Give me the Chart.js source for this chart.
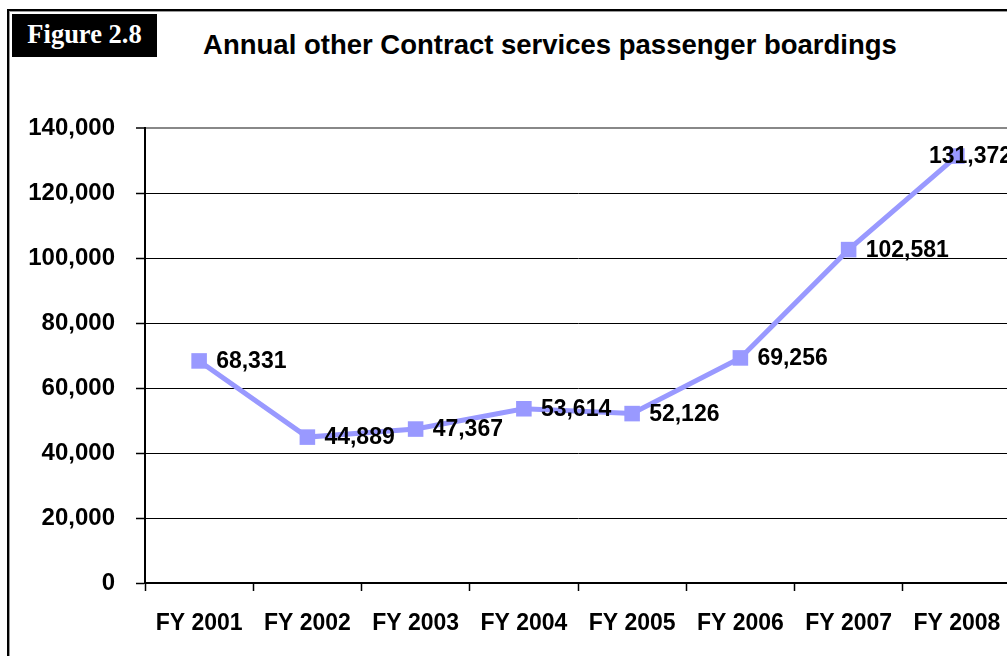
<!DOCTYPE html>
<html>
<head>
<meta charset="utf-8">
<script src="https://cdn.jsdelivr.net/npm/chart.js@4/dist/chart.umd.min.js"></script>
<style>
  html, body { margin: 0; padding: 0; background: #fff; }
  #wrap { position: relative; width: 1007px; height: 656px; overflow: hidden; }
  #frame {
    position: absolute; left: 7px; top: 9px; width: 1100px; height: 700px;
    border-left: 2px solid #000; border-top: 2px solid #000;
    box-shadow: inset 1px 1px 0 #999;
  }
  #figLabel {
    position: absolute; left: 12px; top: 14px; width: 145px; height: 43px;
    background: #000; color: #fff;
    font: bold 26.5px "Liberation Serif", "Times New Roman", serif;
    line-height: 41px; text-align: center;
  }
  #title {
    position: absolute; left: 150px; width: 800px; top: 29px;
    text-align: center;
    font: bold 27.5px "Liberation Sans", Arial, sans-serif;
  }
  #chartBox { position: absolute; left: 0; top: 0; width: 1030px; height: 656px; }
</style>
</head>
<body>
<div id="wrap">
  <div id="frame"></div>
  <div id="figLabel">Figure 2.8</div>
  <div id="title">Annual other Contract services passenger boardings</div>
  <div id="chartBox"><canvas id="chart" width="1030" height="656"></canvas></div>
</div>
<script>
// ---------------- DATA ----------------

const years = ["FY 2001", "FY 2002", "FY 2003", "FY 2004", "FY 2005", "FY 2006", "FY 2007", "FY 2008"];
const boardings = [68331, 44889, 47367, 53614, 52126, 69256, 102581, 131372];
const yTicks = [0, 20000, 40000, 60000, 80000, 100000, 120000, 140000];

const font = "'Liberation Sans', Arial, sans-serif";

function fmt(v) {
  return Number(v).toLocaleString("en-US");
}

// value labels next to each point
const valueLabels = {
  id: "valueLabels",
  afterDatasetsDraw(chart) {
    let ctx = chart.ctx;
    let meta = chart.getDatasetMeta(0);
    ctx.save();
    ctx.font = "bold 23px " + font;
    ctx.fillStyle = "#000";
    ctx.textBaseline = "middle";
    ctx.textAlign = "left";
    meta.data.forEach((pt, i) => {
      let x = pt.x + 17;
      // last one would run off the frame, Excel puts it over the marker
      if (i === meta.data.length - 1) x = pt.x - 28;
      ctx.fillText(fmt(boardings[i]), x, pt.y + 1);
    });
    ctx.restore();
  }
};

let ctx = document.getElementById("chart").getContext("2d");

new Chart(ctx, {
  type: "line",
  data: {
    labels: years,
    datasets: [{
      data: boardings,
      borderColor: "#9999FF",
      backgroundColor: "#9999FF",
      borderWidth: 5,
      pointStyle: "rect",
      pointRadius: 11,
      pointHoverRadius: 11,
      pointBorderWidth: 0,
      tension: 0,
      clip: false
    }]
  },
  options: {
    responsive: false,
    animation: false,
    devicePixelRatio: 1,
    layout: { padding: { top: 128, left: 0, right: 19, bottom: 0 } },
    plugins: {
      legend: { display: false },
      tooltip: { enabled: false },
      title: { display: false }
    },
    scales: {
      x: {
        offset: true,
        grid: {
          offset: true,
          drawOnChartArea: false,
          tickLength: 8,
          tickColor: "#000",
          tickWidth: 1.5
        },
        border: { display: true, color: "#000", width: 2 },
        ticks: {
          color: "#000",
          font: { family: font, size: 23, weight: "bold" },
          padding: 19,
          maxRotation: 0,
          autoSkip: false
        },
        afterFit(scale) { scale.height = 73; }
      },
      y: {
        min: 0,
        max: 140000,
        afterBuildTicks(scale) {
          scale.ticks = yTicks.map(v => ({ value: v }));
        },
        grid: {
          color: c => (c.tick && c.tick.value === 140000) ? "#888" : "#000",
          lineWidth: c => (c.tick && c.tick.value === 140000) ? 2 : 1,
          tickLength: 9,
          tickColor: "#000",
          tickWidth: 1.5
        },
        border: { display: true, color: "#000", width: 2 },
        ticks: {
          color: "#000",
          font: { family: font, size: 24, weight: "bold" },
          padding: 21,
          callback: v => fmt(v)
        },
        afterFit(scale) { scale.width = 145; }
      }
    }
  },
  plugins: [valueLabels]
});
</script>
</body>
</html>
